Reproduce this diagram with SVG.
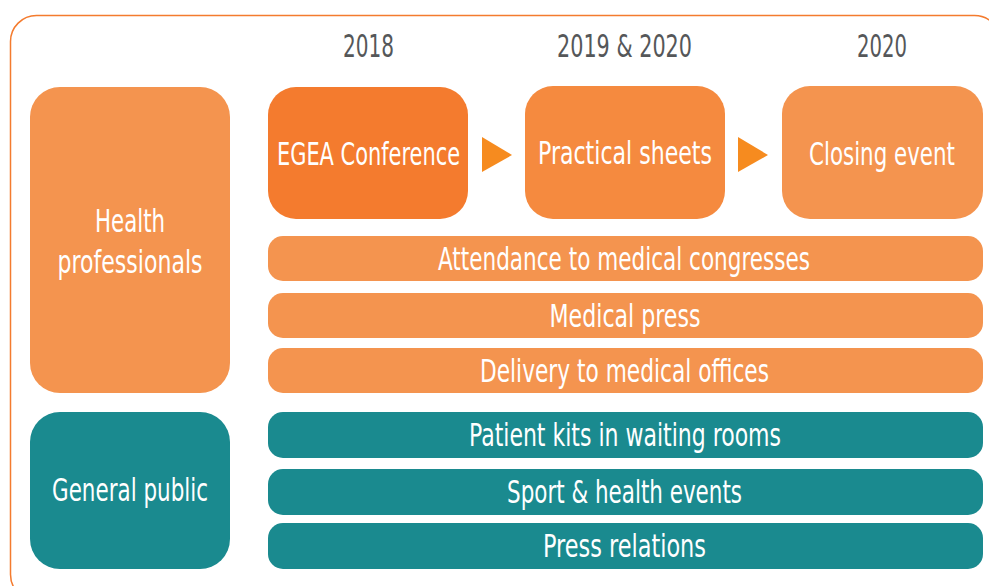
<svg xmlns="http://www.w3.org/2000/svg" width="989" height="586" viewBox="0 0 989 586">
<defs>
<style>
.t{font-family:"DejaVu Sans Condensed","DejaVu Sans","Liberation Sans",sans-serif;font-size:32px;fill:#fff;text-anchor:middle;}
.y{fill:#555759;}
.lo{fill:#F4944F;}
.mo{fill:#F58A3F;}
.do{fill:#F47B2E;}
.te{fill:#1A8A8F;}
.ar{fill:#F68B1F;}
</style>
</defs>
<rect x="0" y="0" width="989" height="586" fill="#fff"/>
<rect x="10.5" y="15.5" width="990" height="585" rx="26" fill="none" stroke="#F47B2E" stroke-width="1.5"/>
<g id="years">
<text class="t y" x="368.5" y="57" textLength="51" lengthAdjust="spacingAndGlyphs">2018</text>
<text class="t y" x="624.5" y="57" textLength="135" lengthAdjust="spacingAndGlyphs">2019 &amp; 2020</text>
<text class="t y" x="882" y="57" textLength="50" lengthAdjust="spacingAndGlyphs">2020</text>
</g>
<g id="health-professionals">
<rect class="lo" x="30" y="87" width="200" height="306" rx="30"/>
<text class="t" x="130" y="232" textLength="70" lengthAdjust="spacingAndGlyphs">Health</text>
<text class="t" x="130" y="273" textLength="145" lengthAdjust="spacingAndGlyphs">professionals</text>
</g>
<g id="general-public">
<rect class="te" x="30" y="412" width="200" height="157" rx="30"/>
<text class="t" x="130" y="501" textLength="156" lengthAdjust="spacingAndGlyphs">General public</text>
</g>
<g id="egea-conference">
<rect class="do" x="268" y="87" width="200" height="132" rx="28"/>
<text class="t" x="368.5" y="165" textLength="183" lengthAdjust="spacingAndGlyphs">EGEA Conference</text>
</g>
<g id="practical-sheets">
<rect class="mo" x="525" y="86" width="200" height="133" rx="28"/>
<text class="t" x="625" y="164" textLength="174" lengthAdjust="spacingAndGlyphs">Practical sheets</text>
</g>
<g id="closing-event">
<rect class="lo" x="782" y="86" width="201" height="133" rx="28"/>
<text class="t" x="882" y="165" textLength="146" lengthAdjust="spacingAndGlyphs">Closing event</text>
</g>
<g id="connectors">
<polygon class="ar" points="482,137 512,155 482,172"/>
<polygon class="ar" points="738,137 768,155 738,172"/>
</g>
<g id="attendance">
<rect class="lo" x="268" y="236" width="715" height="45" rx="15"/>
<text class="t" x="624" y="270" textLength="372" lengthAdjust="spacingAndGlyphs">Attendance to medical congresses</text>
</g>
<g id="medical-press">
<rect class="lo" x="268" y="293" width="715" height="45" rx="15"/>
<text class="t" x="625" y="327" textLength="151" lengthAdjust="spacingAndGlyphs">Medical press</text>
</g>
<g id="delivery">
<rect class="lo" x="268" y="348" width="715" height="45" rx="15"/>
<text class="t" x="624.5" y="382" textLength="289" lengthAdjust="spacingAndGlyphs">Delivery to medical offices</text>
</g>
<g id="patient-kits">
<rect class="te" x="268" y="412" width="715" height="46" rx="15"/>
<text class="t" x="625" y="446" textLength="312" lengthAdjust="spacingAndGlyphs">Patient kits in waiting rooms</text>
</g>
<g id="sport-health">
<rect class="te" x="268" y="469" width="715" height="46" rx="15"/>
<text class="t" x="624.5" y="503" textLength="235" lengthAdjust="spacingAndGlyphs">Sport &amp; health events</text>
</g>
<g id="press-relations">
<rect class="te" x="268" y="523" width="715" height="46" rx="15"/>
<text class="t" x="624.5" y="557" textLength="163" lengthAdjust="spacingAndGlyphs">Press relations</text>
</g>
</svg>
